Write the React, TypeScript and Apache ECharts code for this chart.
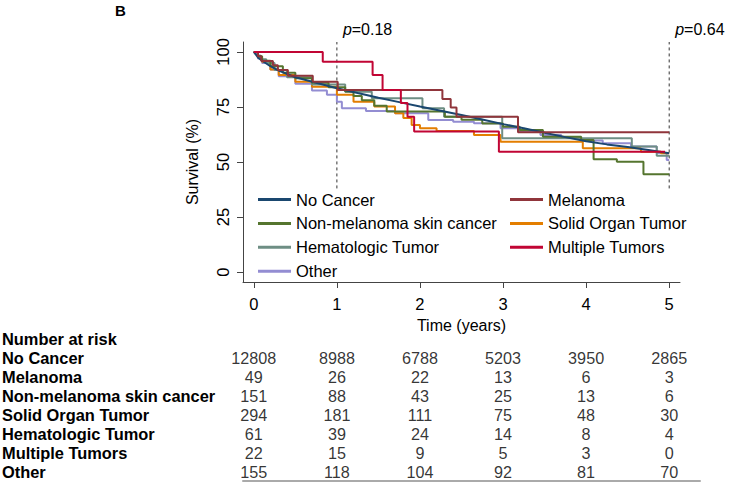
import React, { useEffect, useRef } from 'react';
import * as echarts from 'echarts';

const FONT = '"Liberation Sans", Arial, Helvetica, sans-serif';

// ---- series names / colours ----
const seriesNames = [
  'No Cancer',
  'Melanoma',
  'Non-melanoma skin cancer',
  'Solid Organ Tumor',
  'Hematologic Tumor',
  'Multiple Tumors',
  'Other',
];
const seriesColors = ['#1a476f', '#90353b', '#55752f', '#e37e00', '#6e8e84', '#c10534', '#938dd2'];

// ---- survival curves (time in years, survival %) ----
const noCancerT = [0, 0.05, 0.1, 0.2, 0.3, 0.5, 0.75, 1, 1.25, 1.5, 1.75, 2, 2.25, 2.5, 2.75, 3, 3.25, 3.5, 3.75, 4, 4.25, 4.5, 4.75, 5];
const noCancerS = [100, 97.5, 96, 93.5, 91.5, 88.5, 86, 83.5, 81.3, 79.2, 77.2, 75.2, 73.3, 71.3, 69.3, 67.2, 65.3, 63.3, 61.3, 59.4, 58, 56.8, 55.4, 54];

const melanomaT = [0, 0.05, 0.09, 0.23, 0.29, 0.41, 0.71, 1.01, 2.27, 2.37, 2.44, 3.18, 5];
const melanomaS = [100, 98, 95.9, 93.9, 91.8, 89.2, 86.5, 82.7, 78.6, 74.8, 70.6, 63.5, 63.5];

const nmscT = [0, 0.05, 0.1, 0.2, 0.35, 0.5, 0.7, 0.9, 1.1, 1.2, 1.3, 1.45, 1.6, 2.3, 2.5, 2.75, 3.0, 3.2, 3.48, 3.94, 4.09, 4.37, 4.69, 5];
const nmscS = [100, 98, 96, 93.5, 90.5, 88, 86, 84, 82, 80, 78, 75.5, 72.9, 70.6, 69.2, 67.5, 66, 64.5, 61.5, 60, 51.2, 50.1, 44.4, 44.4];

const solidT = [0, 0.05, 0.1, 0.2, 0.3, 0.5, 0.7, 1.0, 1.2, 1.45, 1.7, 1.8, 1.9, 2.0, 2.2, 2.65, 2.97, 3.96, 4.66, 4.9, 5];
const solidS = [100, 97.5, 95.5, 92, 89.5, 86.5, 84.2, 80.5, 77.4, 75.2, 72.1, 70, 66.8, 65.3, 64.1, 62.3, 59.2, 56.2, 54.7, 54, 54];

const hemT = [0, 0.04, 0.08, 0.15, 0.25, 0.4, 0.7, 1.1, 1.42, 2.03, 2.29, 2.99, 4.55, 4.85, 5];
const hemS = [100, 98.4, 96.7, 95, 91.8, 88.5, 85.2, 81.9, 79, 74.4, 70.6, 60.8, 57, 52.8, 52.8];

const multiT = [0, 0.83, 1.43, 1.55, 1.77, 1.85, 1.93, 2.95, 4.95];
const multiS = [100, 95.5, 89.5, 82.7, 76.8, 70.6, 63.8, 54.7, 54.7];

const otherT = [0, 0.05, 0.1, 0.2, 0.3, 0.5, 0.7, 0.88, 1.0, 1.06, 1.35, 1.7, 2.1, 2.4, 2.65, 2.97, 3.2, 3.45, 3.7, 3.94, 4.2, 4.54, 4.85, 4.97, 5];
const otherS = [100, 97, 95, 92, 89, 85.5, 82.5, 80.5, 77.4, 74.4, 73.2, 72.1, 69.1, 68.3, 67.6, 65.3, 63.8, 62.3, 61.2, 59.8, 58.5, 57, 54.1, 50.9, 50.9];

// ---- number at risk table ----
const riskTimes = [0, 1, 2, 3, 4, 5];
const riskNoCancer = [12808, 8988, 6788, 5203, 3950, 2865];
const riskMelanoma = [49, 26, 22, 13, 6, 3];
const riskNmsc = [151, 88, 43, 25, 13, 6];
const riskSolid = [294, 181, 111, 75, 48, 30];
const riskHem = [61, 39, 24, 14, 8, 4];
const riskMulti = [22, 15, 9, 5, 3, 0];
const riskOther = [155, 118, 104, 92, 81, 70];
const riskHeader = 'Number at risk';

// ---- axes / annotations ----
const xTicks = [0, 1, 2, 3, 4, 5];
const yTicks = [0, 25, 50, 75, 100];
const pTimes = [1, 5];
const pValues = ['0.18', '0.64'];

const curveT = [noCancerT, melanomaT, nmscT, solidT, hemT, multiT, otherT];
const curveS = [noCancerS, melanomaS, nmscS, solidS, hemS, multiS, otherS];
const riskRows = [riskNoCancer, riskMelanoma, riskNmsc, riskSolid, riskHem, riskMulti, riskOther];

export default function App() {
  const ref = useRef<HTMLDivElement>(null);

  useEffect(() => {
    if (!ref.current) return;
    const chart = echarts.init(ref.current, undefined, { renderer: 'svg' });

    const X_MIN = -0.13;
    const X_MAX = 5.13;
    const pxPerYear = 437 / (X_MAX - X_MIN);
    const X2_MAX = X_MIN + 457 / pxPerYear;

    // draw order (later = on top)
    const drawOrder = [6, 3, 4, 2, 0, 1, 5];
    const curveSeries = drawOrder.map((i) => ({
      name: seriesNames[i],
      type: 'line',
      xAxisIndex: 0,
      yAxisIndex: 0,
      step: i === 0 ? undefined : 'end',
      smooth: false,
      showSymbol: false,
      symbol: 'none',
      color: seriesColors[i],
      lineStyle: { width: 2, color: seriesColors[i] },
      data: curveT[i].map((t, k) => [t, curveS[i][k]]),
      z: 3,
    }));

    const pSeries = pTimes.map((t, k) => ({
      name: 'p' + k,
      type: 'line',
      xAxisIndex: 0,
      yAxisIndex: 0,
      symbol: 'circle',
      symbolSize: 0.01,
      showSymbol: true,
      itemStyle: { color: 'rgba(0,0,0,0)' },
      lineStyle: { width: 1, color: '#333', type: [3, 3] },
      data: [
        { value: [t, 38], label: { show: false } },
        {
          value: [t, 104.5],
          label: {
            show: true,
            position: 'top',
            align: 'left',
            distance: 4,
            offset: [6, 0],
            formatter: '{it|p}=' + pValues[k],
            fontFamily: FONT,
            fontSize: 16,
            color: '#000',
            rich: { it: { fontStyle: 'italic', fontFamily: FONT, fontSize: 16, color: '#000' } },
          },
        },
      ],
      z: 2,
    }));

    const tableData: any[] = [];
    riskRows.forEach((row, r) => {
      row.forEach((n, j) => tableData.push([riskTimes[j], r + 1, n]));
    });

    const rowLabels = [riskHeader, ...seriesNames];

    const legendCommon = {
      orient: 'vertical',
      itemWidth: 33,
      itemHeight: 3,
      itemGap: 6.9,
      icon: 'rect',
      selectedMode: false,
      padding: 0,
      textStyle: { fontFamily: FONT, fontSize: 16.5, color: '#000', lineHeight: 16 },
    };

    chart.setOption({
      animation: false,
      backgroundColor: '#ffffff',
      textStyle: { fontFamily: FONT },
      graphic: [
        {
          type: 'text',
          left: 115,
          top: 3,
          style: { text: 'B', font: 'bold 15px ' + FONT, fill: '#000' },
        },
      ],
      legend: [
        { ...legendCommon, left: 258, top: 191, data: [seriesNames[0], seriesNames[2], seriesNames[4], seriesNames[6]] },
        { ...legendCommon, left: 510, top: 191, data: [seriesNames[1], seriesNames[3], seriesNames[5]] },
      ],
      grid: [
        { left: 243, top: 42, width: 437, height: 240, outerBoundsMode: 'none', containLabel: false },
        { left: 243, top: 329.5, width: 457, height: 152, outerBoundsMode: 'none', containLabel: false },
      ],
      xAxis: [
        {
          gridIndex: 0,
          type: 'value',
          min: X_MIN,
          max: X_MAX,
          name: 'Time (years)',
          nameLocation: 'middle',
          nameGap: 35,
          nameTextStyle: { fontFamily: FONT, fontSize: 16, color: '#000' },
          axisLine: { show: true, onZero: false, lineStyle: { color: '#444', width: 1 } },
          axisTick: { show: true, length: 6, lineStyle: { color: '#444' }, customValues: xTicks },
          axisLabel: { fontFamily: FONT, fontSize: 16.5, color: '#000', margin: 13, customValues: xTicks },
          splitLine: { show: false },
        },
        {
          gridIndex: 1,
          type: 'value',
          min: X_MIN,
          max: X2_MAX,
          offset: -0.5,
          axisLine: { show: true, onZero: false, lineStyle: { color: '#aaa', width: 2 } },
          axisTick: { show: false },
          axisLabel: { show: false },
          splitLine: { show: false },
        },
      ],
      yAxis: [
        {
          gridIndex: 0,
          type: 'value',
          min: -4.5,
          max: 104.5,
          name: 'Survival (%)',
          nameLocation: 'middle',
          nameRotate: 90,
          nameGap: 43,
          nameTextStyle: { fontFamily: FONT, fontSize: 16, color: '#000' },
          axisLine: { show: true, onZero: false, lineStyle: { color: '#444', width: 1 } },
          axisTick: { show: true, length: 6, lineStyle: { color: '#444' }, customValues: yTicks },
          axisLabel: { fontFamily: FONT, fontSize: 16.5, color: '#000', rotate: 90, margin: 12, customValues: yTicks },
          splitLine: { show: false },
        },
        {
          gridIndex: 1,
          type: 'value',
          min: -0.5,
          max: 7.5,
          inverse: true,
          axisLine: { show: false },
          axisTick: { show: false },
          splitLine: { show: false },
          axisLabel: {
            show: true,
            customValues: [0, 1, 2, 3, 4, 5, 6, 7],
            formatter: (v: number) => rowLabels[Math.round(v)] ?? '',
            align: 'left',
            margin: 241,
            fontFamily: FONT,
            fontSize: 16.4,
            lineHeight: 14,
            fontWeight: 'bold',
            color: '#000',
          },
        },
      ],
      series: [
        ...pSeries,
        ...curveSeries,
        {
          name: 'risk',
          type: 'scatter',
          xAxisIndex: 1,
          yAxisIndex: 1,
          symbolSize: 0,
          data: tableData,
          label: {
            show: true,
            position: 'inside',
            formatter: (p: any) => String(p.data[2]),
            fontFamily: FONT,
            fontSize: 16.2,
            lineHeight: 14,
            color: '#000',
          },
        },
      ],
    });

    return () => chart.dispose();
  }, []);

  return (
    <div
      ref={ref}
      style={{ position: 'absolute', left: 0, top: 0, width: 732, height: 482, background: '#fff' }}
    />
  );
}
